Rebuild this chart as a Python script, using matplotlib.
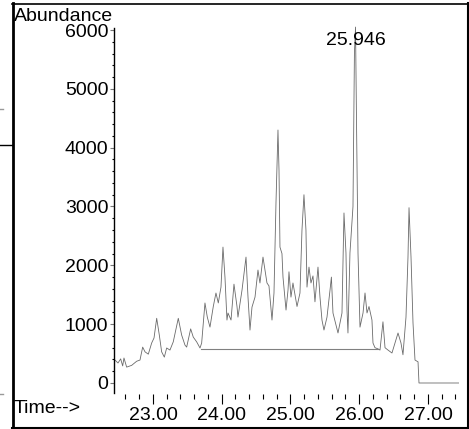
import matplotlib
matplotlib.use("Agg")
import matplotlib.pyplot as plt
from matplotlib.lines import Line2D
from matplotlib.ticker import FixedLocator, MultipleLocator

plt.rcParams['font.family'] = ['Liberation Sans', 'DejaVu Sans']

# chromatogram trace (min, counts)
time_min = [
    22.433, 22.447, 22.491, 22.530, 22.559, 22.578, 22.617, 22.690, 22.763, 22.811,
    22.850, 22.884, 22.932, 22.981, 23.015, 23.054, 23.092, 23.126, 23.165, 23.199,
    23.247, 23.295, 23.368, 23.417, 23.465, 23.490, 23.548, 23.586, 23.635, 23.684,
    23.708, 23.756, 23.790, 23.829, 23.877, 23.916, 23.950, 23.989, 24.018, 24.047,
    24.076, 24.091, 24.135, 24.178, 24.222, 24.236, 24.295, 24.353, 24.382, 24.411,
    24.440, 24.484, 24.527, 24.556, 24.600, 24.658, 24.687, 24.731, 24.760, 24.789,
    24.818, 24.833, 24.847, 24.876, 24.891, 24.935, 24.964, 24.978, 25.007, 25.036,
    25.095, 25.138, 25.167, 25.196, 25.225, 25.240, 25.269, 25.298, 25.327, 25.356,
    25.400, 25.429, 25.458, 25.487, 25.531, 25.575, 25.595, 25.618, 25.691, 25.749,
    25.778, 25.807, 25.822, 25.836, 25.865, 25.909, 25.930, 25.946, 25.960, 25.982,
    26.011, 26.055, 26.084, 26.113, 26.142, 26.185, 26.200, 26.229, 26.273, 26.302,
    26.345, 26.375, 26.418, 26.476, 26.520, 26.564, 26.607, 26.636, 26.680, 26.709,
    26.724, 26.753, 26.782, 26.811, 26.855, 26.869, 27.451,
]
abundance = [
    390, 390, 340, 410, 290, 425, 270, 300, 370, 390,
    610, 530, 490, 680, 765, 1100, 815, 530, 440, 595,
    560, 700, 1100, 815, 645, 610, 920, 780, 700, 595,
    680, 1360, 1120, 950, 1300, 1530, 1360, 1630, 2310, 1800,
    1070, 1190, 1070, 1680, 1300, 1120, 1580, 2140, 1460, 900,
    1290, 1460, 1920, 1700, 2140, 1700, 1650, 1070, 1530, 3060,
    4300, 3620, 2310, 2200, 1800, 1240, 1580, 1890, 1460, 1700,
    1300, 1530, 2600, 3200, 2600, 1630, 1970, 1700, 1820, 1380,
    1970, 1460, 1070, 900, 1120, 1580, 1800, 1190, 850, 1190,
    2890, 2210, 1240, 850, 2210, 3000, 5610, 6050, 4470, 2210,
    950, 1190, 1530, 1190, 1300, 1070, 680, 600, 580, 560,
    1040, 600, 560, 510, 680, 850, 680, 480, 1120, 2140,
    2980, 2140, 1020, 390, 360, 0, 0,
]

# integration baseline
baseline_time = [23.70, 26.27]
baseline_level = [580, 580]

peak_time = 25.946
peak_label = "25.946"
x_major = [23, 24, 25, 26, 27]
x_minor = [22.6 + 0.2 * i for i in range(25)]
y_major = [0, 1000, 2000, 3000, 4000, 5000, 6000]

W, H = 469, 429
fig = plt.figure(figsize=(W / 100, H / 100), dpi=100)
ax = fig.add_axes([114 / W, (H - 394) / H, (459 - 114) / W, (394 - 25) / H])

ax.plot(time_min, abundance, color='#6a6a6a', lw=0.6)
ax.plot(baseline_time, baseline_level, color='#808080', lw=0.8)
ax.text(peak_time, 5750, peak_label, ha='center', va='baseline', fontsize=14)

ax.set_xlim(22.433, 27.451)
ax.set_ylim(-187, 6085)

for s in ('top', 'right', 'bottom'):
    ax.spines[s].set_visible(False)
ax.spines['left'].set_bounds(-170, 6040)
ax.spines['left'].set_linewidth(1.0)

ax.xaxis.set_major_locator(FixedLocator(x_major))
ax.xaxis.set_minor_locator(FixedLocator(x_minor))
ax.set_xticklabels([f"{v:.2f}" for v in x_major])
ax.yaxis.set_major_locator(FixedLocator(y_major))
ax.yaxis.set_minor_locator(MultipleLocator(200))
ax.set_yticklabels([str(v) for v in y_major])

ax.tick_params(axis='x', which='major', direction='out', length=7.2, width=0.8,
               labelsize=14, pad=2)
ax.tick_params(axis='x', which='minor', direction='out', length=3.6, width=0.8)
ax.tick_params(axis='y', which='major', direction='out', length=3, width=0.8,
               labelsize=14, pad=1, color='#777777')
ax.tick_params(axis='y', which='minor', direction='out', length=1.5, width=0.8)

fig.text(13.5 / W, 1 - 21 / H, "Abundance", ha='left', va='baseline', fontsize=14)
fig.text(13.5 / W, 1 - 413 / H, "Time-->", ha='left', va='baseline', fontsize=14)

# outer frame
def px_line(xs, ys, **kw):
    fig.add_artist(Line2D([x / W for x in xs], [1 - y / H for y in ys], **kw))

px_line([12.5, 12.5], [3, 428], lw=2, color='black')
px_line([12, 468], [3.5, 3.5], lw=1.2, color='black')
px_line([467.5, 467.5], [3, 428], lw=1.5, color='black')
px_line([12, 468], [427.5, 427.5], lw=1.5, color='black')
px_line([0, 12], [145, 145], lw=1, color='black')
px_line([0, 3], [109, 109], lw=1, color='#999999')
px_line([0, 3], [394, 394], lw=1, color='#999999')

fig.savefig("out.png", dpi=100)
